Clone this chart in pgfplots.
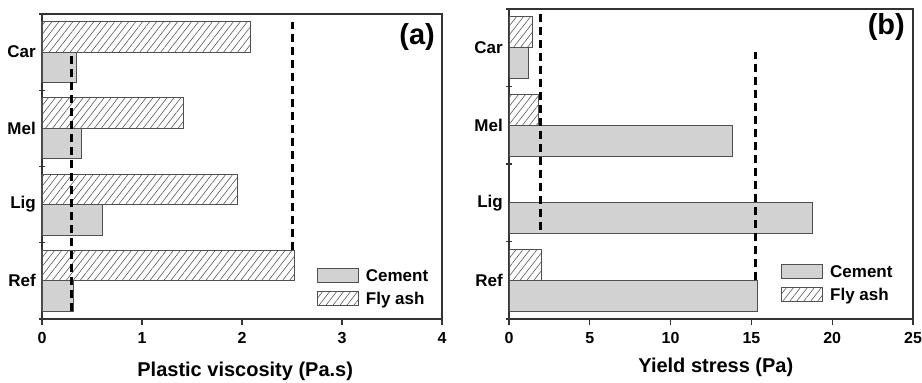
\documentclass[border=0pt]{standalone}
\usepackage{fontspec}
\setmainfont{Liberation Sans}
\usepackage{pgfplots}
\pgfplotsset{compat=1.18}
\usetikzlibrary{patterns.meta}
\definecolor{barfill}{HTML}{D2D2D2}
\definecolor{baredge}{HTML}{505050}
\definecolor{hatchc}{HTML}{5A5A5A}
\definecolor{axc}{HTML}{333333}

\pgfplotsset{
  panel/.style={
    scale only axis,
    axis line style={axc, line width=1.3pt},
    xmin=0, ymin=0, ymax=4,
    ytick={0.5,1.5,2.5,3.5},
    yticklabels={Ref,Lig,Mel,Car},
    ytick pos=left, xtick pos=bottom,
    tick align=outside,
    major tick length=6pt,
    minor tick length=6pt,
    major y tick style={draw=none},
    major x tick style={draw=axc, line width=1.3pt},
    minor ytick={0,1,2,3,4},
    minor y tick style={draw=axc, line width=1.3pt, xshift=3pt},
    /pgf/number format/assume math mode=true,
    yticklabel style={font=\fontsize{17}{17}\selectfont\bfseries, inner sep=0pt},
    xticklabel style={font=\fontsize{16}{16}\selectfont\bfseries, inner sep=0pt, yshift=-7pt},
    xlabel style={font=\fontsize{20}{20}\selectfont\bfseries, inner sep=0pt, anchor=base},
    legend cell align=left,
    legend style={draw=none, fill=none, inner sep=0pt, outer sep=0pt,
      anchor=north west, row sep=7.5pt, column sep=7pt,
      font=\fontsize{17}{17}\selectfont\bfseries,
      nodes={inner sep=0pt, text height=13pt, text depth=1pt}},
    legend image code/.code={\draw[##1] (0pt,-7pt) rectangle (41pt,7pt);},
  },
  cem/.style={xbar, bar width=0.4, bar shift=0pt, fill=barfill, draw=baredge, line width=0.9pt},
  fly/.style={xbar, bar width=0.4, bar shift=0pt, fill=white, draw=baredge, line width=0.9pt,
    postaction={pattern={Lines[angle=52, distance=5.5pt, line width=0.6pt]}, pattern color=hatchc}},
  dline/.style={black, line width=3pt, dash pattern=on 8pt off 5pt, forget plot},
}

\begin{document}
\begin{tikzpicture}
\path[use as bounding box] (0,0) rectangle (922pt,383pt);

% ---------------- (a) ----------------
\begin{axis}[panel,
  at={(42pt,64pt)}, anchor=south west,
  width=400pt, height=305pt,
  xmax=4, xtick={0,1,2,3,4},
  xlabel={Plastic viscosity (Pa.s)},
  xlabel style={at={(axis description cs:0.508,-0.187)}},
  legend style={at={(axis description cs:0.6875,0.166)}},
]
\addplot[cem] coordinates {(0.31,0.3) (0.60,1.3) (0.39,2.3) (0.34,3.3)};
\addlegendentry{Cement}
\addplot[fly] coordinates {(2.52,0.7) (1.95,1.7) (1.41,2.7) (2.08,3.7)};
\addlegendentry{Fly ash}
\addplot[dline] coordinates {(0.30,0.1) (0.30,3.5)};
\addplot[dline] coordinates {(2.50,0.9) (2.50,3.9)};
\node[anchor=north east, inner sep=0pt, font=\fontsize{29}{29}\selectfont\bfseries]
  at ([xshift=-7pt,yshift=-9pt]rel axis cs:1,1) {(a)};
\end{axis}

% ---------------- (b) ----------------
\begin{axis}[panel,
  at={(509pt,64pt)}, anchor=south west,
  width=404pt, height=310pt,
  xmax=25, xtick={0,5,10,15,20,25},
  xlabel={Yield stress (Pa)},
  xlabel style={at={(axis description cs:0.512,-0.171)}},
  legend style={at={(axis description cs:0.674,0.1765)}},
]
\addplot[cem] coordinates {(15.35,0.3) (18.8,1.3) (13.8,2.3) (1.22,3.3)};
\addlegendentry{Cement}
\addplot[fly] coordinates {(2.0,0.7) (1.84,2.7) (1.48,3.7)};
\addlegendentry{Fly ash}
\addplot[dline] coordinates {(1.95,1.15) (1.95,3.95)};
\addplot[dline] coordinates {(15.25,0.5) (15.25,3.45)};
\node[anchor=north east, inner sep=0pt, font=\fontsize{29}{29}\selectfont\bfseries]
  at ([xshift=-8pt,yshift=-4pt]rel axis cs:1,1) {(b)};
\end{axis}
\end{tikzpicture}
\end{document}
